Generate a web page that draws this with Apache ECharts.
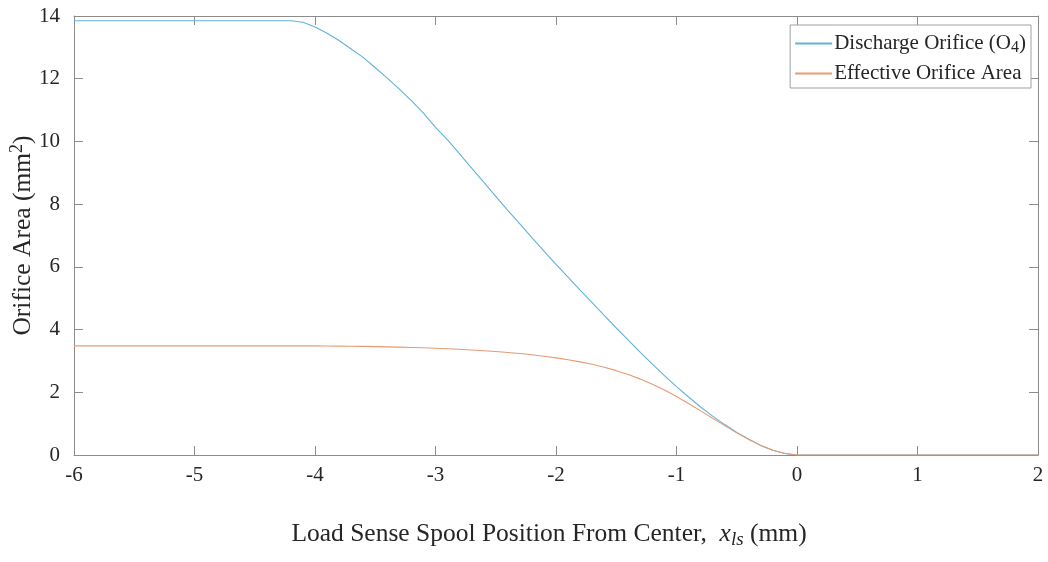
<!DOCTYPE html>
<html>
<head>
<meta charset="utf-8">
<script src="https://cdn.jsdelivr.net/npm/echarts@6/dist/echarts.min.js"></script>
<style>
html,body{margin:0;padding:0;background:#fff;}
#c{width:1048px;height:562px;}
</style>
</head>
<body>
<div id="c"></div>
<script>
const xPos = [-6, -4.2, -4.1, -4.0, -3.9, -3.8, -3.7, -3.6, -3.5, -3.4, -3.3, -3.2, -3.1, -3.0, -2.9, -2.8, -2.7, -2.6, -2.5, -2.4, -2.3, -2.2, -2.1, -2.0, -1.9, -1.8, -1.7, -1.6, -1.5, -1.4, -1.3, -1.2, -1.1, -1.0, -0.9, -0.8, -0.7, -0.6, -0.5, -0.4, -0.3, -0.2, -0.1, 0, 2];
const dischargeArea = [13.85, 13.85, 13.8, 13.65, 13.45, 13.22, 12.95, 12.68, 12.35, 12.02, 11.67, 11.3, 10.9, 10.45, 10.05, 9.6, 9.15, 8.7, 8.25, 7.8, 7.37, 6.93, 6.5, 6.08, 5.67, 5.26, 4.86, 4.45, 4.05, 3.66, 3.27, 2.9, 2.53, 2.18, 1.85, 1.53, 1.24, 0.97, 0.72, 0.5, 0.3, 0.15, 0.05, 0, 0];
const effectiveArea = [3.48, 3.48, 3.48, 3.48, 3.477, 3.473, 3.469, 3.463, 3.456, 3.449, 3.44, 3.43, 3.418, 3.404, 3.389, 3.371, 3.35, 3.327, 3.3, 3.269, 3.235, 3.195, 3.149, 3.098, 3.039, 2.971, 2.893, 2.799, 2.69, 2.567, 2.42, 2.258, 2.07, 1.865, 1.645, 1.408, 1.172, 0.937, 0.706, 0.495, 0.299, 0.15, 0.05, 0, 0];
const seriesNames = ['Discharge Orifice (O4)', 'Effective Orifice Area'];
const xTicks = [-6, -5, -4, -3, -2, -1, 0, 1, 2];
const yTicks = [0, 2, 4, 6, 8, 10, 12, 14];

const FONT = '"Liberation Serif", "Times New Roman", serif';
const AX = '#8c8c8c';
const TXT = '#262626';

function pairs(xs, ys) { return xs.map((x, i) => [x, ys[i]]); }

const chart = echarts.init(document.getElementById('c'), null, {renderer: 'canvas'});
function axisCommon() {
  return {
    axisLine: {show: true, onZero: false, lineStyle: {color: AX, width: 1}},
    axisTick: {show: true, inside: true, length: 9, lineStyle: {color: AX}},
    splitLine: {show: false}
  };
}
chart.setOption({
  animation: false,
  backgroundColor: '#fff',
  grid: {left: 74, right: 10, top: 16, bottom: 107, outerBoundsMode: 'none', containLabel: false},
  legend: {
    orient: 'vertical',
    right: 17,
    top: 25,
    backgroundColor: '#fff',
    borderColor: '#a0a0a0',
    borderWidth: 1,
    borderRadius: 0,
    padding: [4, 5, 4, 5],
    itemGap: 7,
    itemWidth: 37,
    itemHeight: 2,
    icon: 'rect',
    data: seriesNames,
    formatter: function (name) {
      if (name === seriesNames[0]) return '{n|Discharge Orifice (O}{sub|4}{n|)}';
      return '{n|' + name + '}';
    },
    textStyle: {
      fontFamily: FONT, fontSize: 21, color: TXT, padding: [0, 0, 0, -3],
      rich: {
        n: {fontFamily: FONT, fontSize: 21, color: TXT, lineHeight: 25, verticalAlign: 'middle'},
        sub: {fontFamily: FONT, fontSize: 16, color: TXT, lineHeight: 25, verticalAlign: 'bottom', padding: [11, 0, 0, 0]}
      }
    }
  },
  xAxis: [
    Object.assign({
      type: 'value', min: -6, max: 2, interval: 1, position: 'bottom',
      axisLabel: {show: true, margin: 10, fontFamily: FONT, fontSize: 21, color: TXT,
        formatter: v => xTicks.indexOf(v) >= 0 ? String(v) : ''},
      name: '{n|Load Sense Spool Position From Center,  }{i|x}{sub|ls}{n| (mm)}',
      nameLocation: 'middle',
      nameGap: 64,
      nameMoveOverlap: false,
      nameTextStyle: {
        padding: [0, 14, 0, 0],
        rich: {
          n: {fontFamily: FONT, fontSize: 25.5, color: TXT, lineHeight: 30, verticalAlign: 'middle'},
          i: {fontFamily: FONT, fontSize: 25.5, fontStyle: 'italic', color: TXT, lineHeight: 30, verticalAlign: 'middle'},
          sub: {fontFamily: FONT, fontSize: 19, fontStyle: 'italic', color: TXT, lineHeight: 30, verticalAlign: 'bottom', padding: [14, 0, 0, 0]}
        }
      }
    }, axisCommon()),
    Object.assign({
      type: 'value', min: -6, max: 2, interval: 1, position: 'top',
      axisLabel: {show: false}
    }, axisCommon())
  ],
  yAxis: [
    Object.assign({
      type: 'value', min: 0, max: 14, interval: 2, position: 'left',
      axisLabel: {show: true, margin: 14, fontFamily: FONT, fontSize: 21, color: TXT,
        formatter: v => yTicks.indexOf(v) >= 0 ? String(v) : ''},
      name: '{n|Orifice Area (mm}{sup|2}{n|)}',
      nameLocation: 'middle',
      nameGap: 36,
      nameMoveOverlap: false,
      nameRotate: 90,
      nameTextStyle: {
        rich: {
          n: {fontFamily: FONT, fontSize: 25.5, color: TXT, lineHeight: 30, verticalAlign: 'middle'},
          sup: {fontFamily: FONT, fontSize: 18, color: TXT, lineHeight: 30, verticalAlign: 'top', padding: [0, 0, 12, 0]}
        }
      }
    }, axisCommon()),
    Object.assign({
      type: 'value', min: 0, max: 14, interval: 2, position: 'right',
      axisLabel: {show: false}
    }, axisCommon())
  ],
  series: [
    {
      name: seriesNames[0], type: 'line', data: pairs(xPos, dischargeArea),
      smooth: false, showSymbol: false, symbol: 'none',
      lineStyle: {color: '#62b2d9', width: 1.1}, itemStyle: {color: '#62b2d9'}, z: 3
    },
    {
      name: seriesNames[1], type: 'line', data: pairs(xPos, effectiveArea),
      smooth: false, showSymbol: false, symbol: 'none',
      lineStyle: {color: '#e69b72', width: 1.1}, itemStyle: {color: '#e69b72'}, z: 4
    }
  ]
});
</script>
</body>
</html>
